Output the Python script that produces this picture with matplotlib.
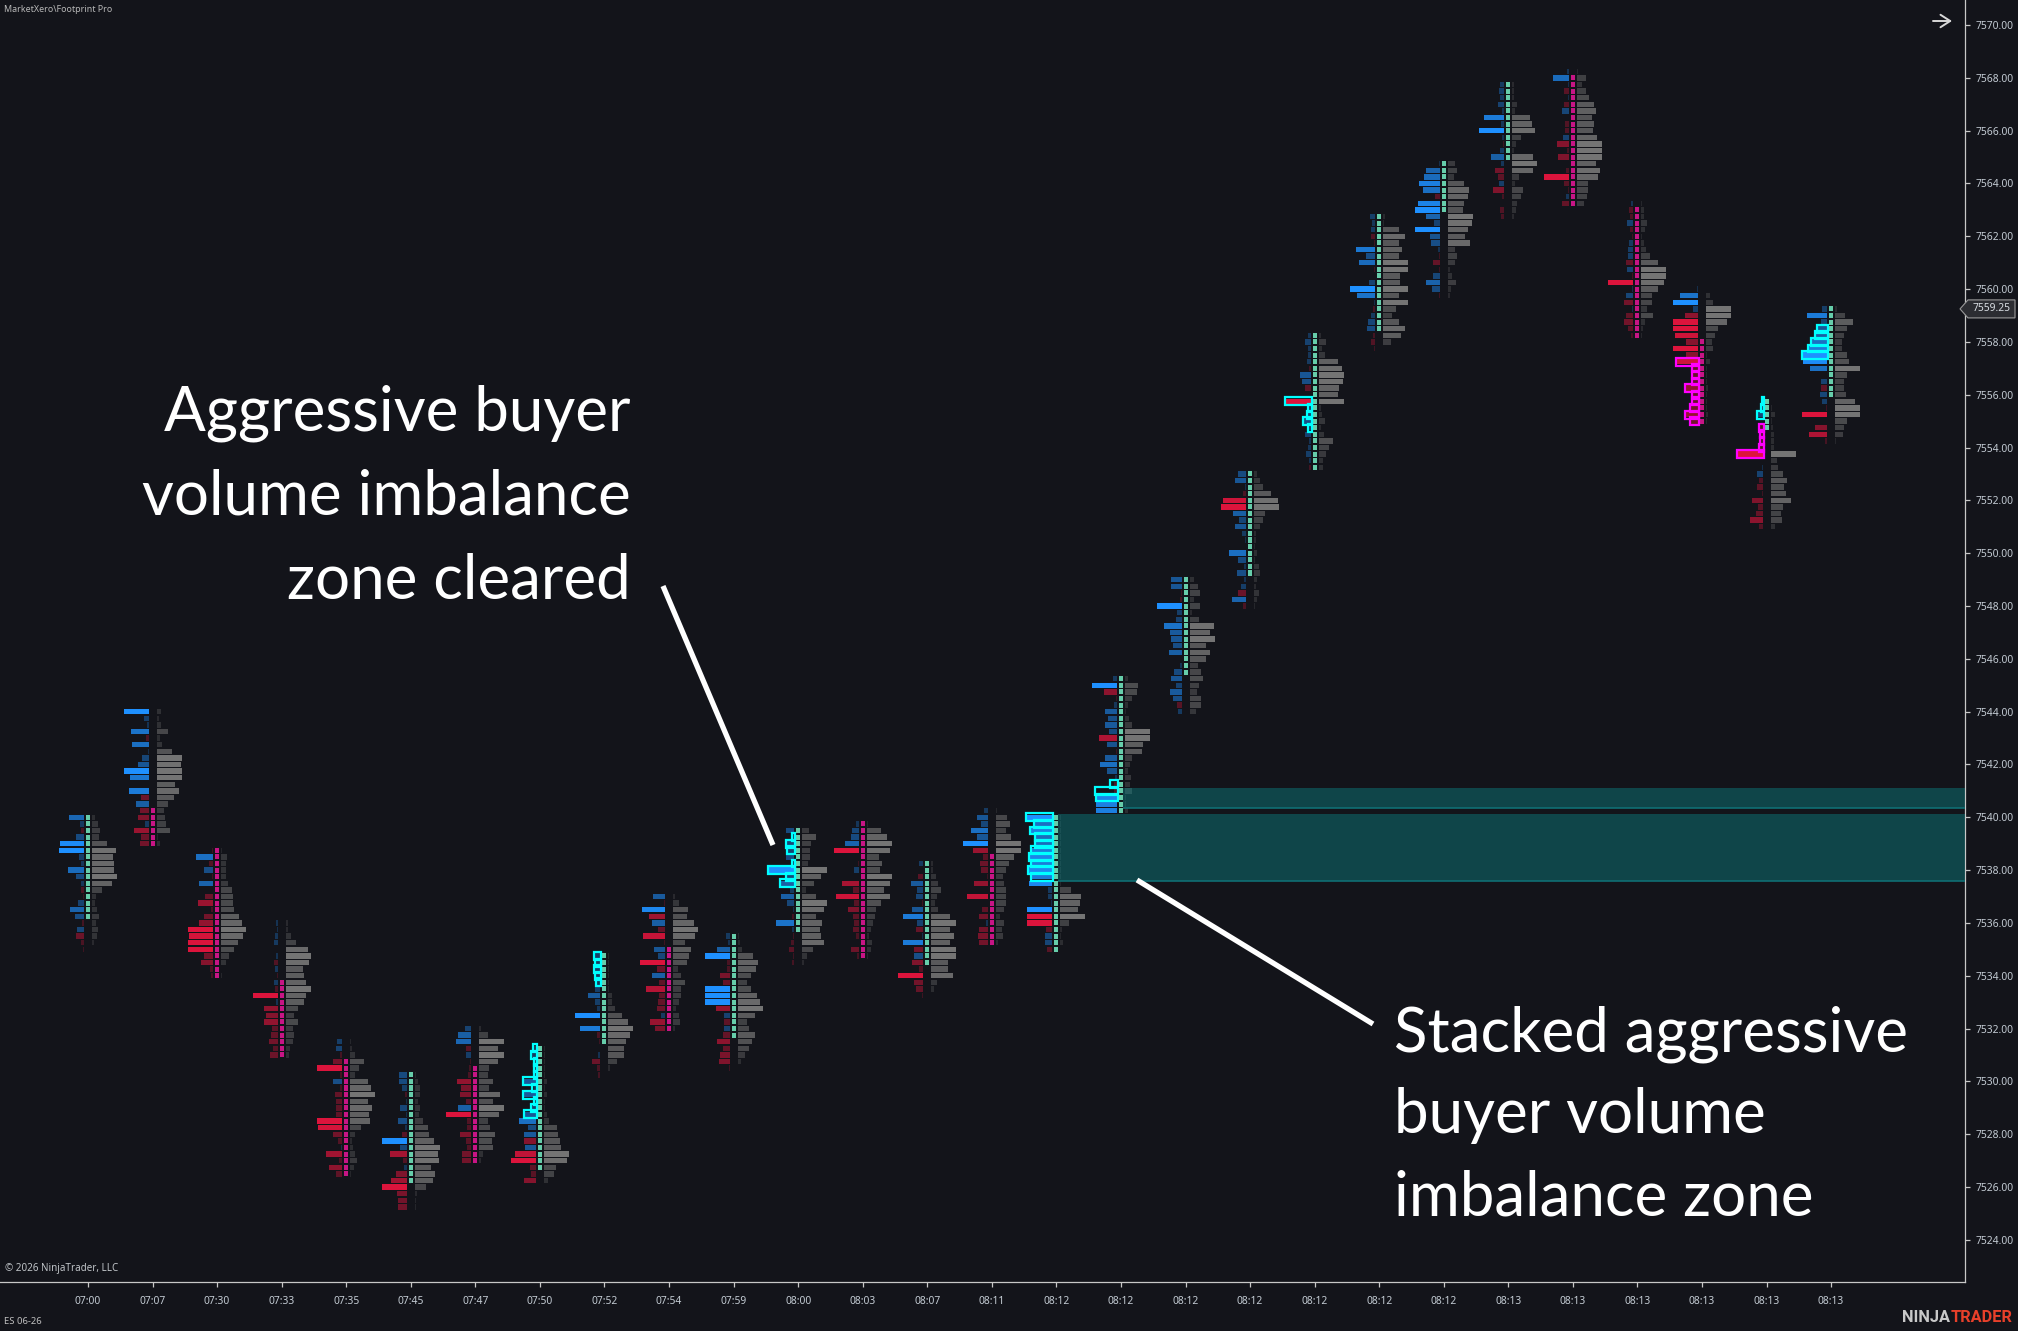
import matplotlib
matplotlib.use("Agg")
import matplotlib.pyplot as plt
from matplotlib.patches import Polygon

# ---------- data ----------
time_labels = ["07:00","07:07","07:30","07:33","07:35","07:45","07:47","07:50","07:52","07:54",
               "07:59","08:00","08:03","08:07","08:11","08:12","08:12","08:12","08:12","08:12",
               "08:12","08:12","08:13","08:13","08:13","08:13","08:13","08:13"]
price_ticks = [7524 + 2 * i for i in range(24)]
top_price = [7540.0,7544.0,7538.75,7536.0,7531.5,7530.25,7532.0,7531.25,7534.75,7537.0,
             7535.5,7539.5,7539.75,7538.25,7540.25,7540.0,7545.25,7549.0,7553.0,7558.25,
             7562.75,7564.75,7567.75,7568.25,7563.25,7560.0,7555.75,7559.25]
body_first = [0,15,0,9,3,0,6,0,0,8,0,0,0,0,7,0,0,0,0,0,0,0,0,1,1,8,0,0]
body_last  = [15,20,19,20,20,16,20,18,13,20,15,15,20,15,20,20,20,14,15,20,17,7,11,20,20,20,4,13]
body_up = [1,0,0,0,0,1,0,1,1,0,1,1,0,1,0,1,1,1,1,1,1,1,1,0,0,0,1,1]

# left column: + buyers (blue), - sellers (red); right column: total volume
left_00 = [15,4,-3,8,24,25,5,3,16,8,3,-3,-1,6,14,9,-2,7,-8,-3,-1]
right_00 = [3,6,8,7,15,24,21,22,22,25,20,10,4,3,5,7,4,6,5,2,0]
left_01 = [25,5,2,18,-3,17,1,7,11,25,19,0,20,-8,13,-9,-11,4,-15,-8,-9]
right_01 = [4,2,4,11,3,5,15,25,24,25,25,18,22,17,11,7,8,9,13,1,3]
left_02 = [-1,17,-4,9,-1,14,0,-8,-15,-2,-9,-14,-25,-24,-25,-25,-9,-12,-3,-2]
right_02 = [1,6,5,5,5,7,11,12,12,13,18,21,25,22,17,13,8,5,0,1]
left_03 = [2,1,3,4,0,2,-4,3,-1,4,-3,-25,2,-14,-12,-14,-6,-7,-9,-5,-8]
right_03 = [2,2,5,10,22,25,23,17,18,20,25,20,18,12,8,12,7,8,7,4,3]
left_04 = [5,6,-2,-9,-25,-2,9,-2,-7,-6,-6,-6,-25,-24,-9,-4,1,-16,-3,-13,-6]
right_04 = [1,2,5,14,9,5,18,21,25,18,22,19,20,11,5,2,3,5,7,4,1]
left_05 = [8,8,5,-2,1,7,1,9,2,-5,25,7,-17,-4,3,-11,-16,-25,-10,-9,-9]
right_05 = [1,3,5,5,3,5,4,8,13,14,19,25,23,24,16,20,18,11,2,1,1]
left_06 = [6,13,15,-5,5,-1,-2,-3,-14,-10,-11,-5,13,-25,-4,-4,-11,-5,-4,-9,-9]
right_06 = [2,9,25,19,25,19,10,9,14,10,21,14,25,20,9,11,16,13,14,4,2]
left_07 = [2,4,1,1,1,12,2,12,2,5,11,17,8,12,-12,11,-21,-25,-6,-5,-12]
right_07 = [1,1,1,1,1,3,1,3,1,1,3,5,13,14,16,17,25,23,12,10,4]
left_08 = [5,4,5,4,3,5,12,5,3,25,0,20,-3,-1,0,2,-8,-3,-2]
right_08 = [1,1,1,1,1,1,4,4,7,14,20,25,22,18,16,16,9,2,0]
left_09 = [12,-1,23,-16,13,-7,-22,-1,11,7,-25,-8,13,-6,-19,-6,-7,-8,4,-15,-10]
right_09 = [2,6,15,14,21,25,22,12,18,16,14,5,8,12,8,8,6,3,6,7,2]
left_10 = [4,2,13,25,-3,-3,-10,-7,25,25,25,-14,6,-6,6,-7,-13,-7,-10,-11,-1]
right_10 = [1,2,4,15,20,18,13,9,13,19,22,25,17,9,11,17,14,11,7,3,0]
left_11 = [8,2,7,6,8,2,25,7,13,4,13,7,1,-2,18,2,-1,-3,-5,-1,-2]
right_11 = [7,14,9,8,8,6,25,19,12,4,14,25,22,14,20,18,19,22,11,5,2]
left_12 = [3,7,8,14,-25,0,-1,5,0,-17,-6,-23,-5,-11,-6,-5,-6,-3,0,-8,-2]
right_12 = [1,14,20,25,23,12,15,13,25,23,17,23,14,9,8,6,4,2,5,4,1]
left_13 = [4,0,-5,12,6,7,-1,11,20,6,-7,1,20,-9,9,-11,-4,-25,-9,-7,-1]
right_13 = [2,2,5,7,10,6,4,7,19,25,19,23,19,25,25,17,17,22,6,3,0]
left_14 = [4,11,7,17,11,25,-15,-5,-8,-7,-1,-14,0,-21,0,-6,-9,2,-9,-10,-9]
right_14 = [1,11,14,10,15,25,25,18,13,10,7,8,10,10,10,8,4,8,6,7,2]
left_15 = [25,17,21,16,16,20,22,20,23,20,23,4,4,1,25,-25,-25,-6,7,7,-5]
right_15 = [1,1,1,1,1,1,1,1,1,1,1,11,21,20,18,25,9,2,1,3,0]
left_16 = [4,25,-13,-1,3,12,9,12,8,-18,10,-1,12,17,10,2,-3,-3,22,21,21]
right_16 = [3,13,12,7,3,1,4,7,25,25,18,17,7,5,3,6,5,7,1,1,3]
left_17 = [11,11,-1,-2,25,5,6,18,12,11,9,13,0,2,8,11,6,12,9,-5,4]
right_17 = [4,8,10,4,10,2,9,24,20,25,16,20,16,8,11,13,9,7,11,11,6]
left_18 = [8,11,1,-3,-23,-25,13,7,11,4,1,0,17,8,2,9,2,5,-8,14,-3]
right_18 = [3,6,9,17,24,25,11,9,6,2,2,1,3,1,5,6,3,2,5,3,1]
left_19 = [3,6,3,3,4,-2,11,9,-6,0,-25,4,5,9,4,6,2,3,5,2,-2]
right_19 = [2,7,3,6,19,23,25,24,20,19,25,2,3,6,2,5,14,10,7,4,4]
left_20 = [5,3,4,-4,-1,19,9,16,-1,0,6,25,18,1,-2,4,7,8,-2,-4,-1]
right_20 = [2,1,16,22,16,19,16,25,25,17,17,25,16,25,13,9,16,22,18,8,0]
left_21 = [1,14,16,21,17,-5,22,25,14,6,25,10,9,2,-1,-7,-1,7,14,8,-1]
right_21 = [7,9,6,16,21,20,16,15,25,24,20,17,22,7,9,7,2,4,8,3,2]
left_22 = [4,5,4,6,2,20,3,25,2,-1,4,13,3,-9,-6,5,-11,-2,0,-4,-3]
right_22 = [2,2,2,5,3,18,20,23,9,4,2,21,25,21,7,3,11,9,5,4,2]
left_23 = [2,16,1,-5,1,-5,7,0,-4,-4,6,-12,-2,-11,0,-3,-25,-5,-1,3,-7]
right_23 = [1,9,5,9,12,17,19,15,17,16,20,25,25,25,19,23,21,11,11,10,7]
left_24 = [2,-4,-3,6,-3,-1,4,5,5,-7,6,-1,-25,1,7,-9,1,-7,-9,-5,-2]
right_24 = [1,3,3,6,4,1,3,5,9,17,25,25,23,17,11,11,6,12,4,2,1]
left_25 = [1,18,25,5,-13,-25,-25,-23,-12,-25,-12,-23,-7,-7,-7,-14,-7,-7,-9,-14,-9]
right_25 = [0,4,7,25,25,21,12,9,6,7,1,4,1,1,1,2,1,1,1,2,1]
left_26 = [2,3,7,0,-5,-4,-4,-5,-25,0,1,6,-4,-6,-1,-11,-5,-7,-13,-4]
right_26 = [0,1,4,1,2,3,3,3,25,6,7,12,16,13,15,20,12,10,11,4]
left_27 = [5,20,6,11,13,17,20,25,24,17,0,6,-6,7,5,-1,-25,0,-12,-18,-2]
right_27 = [2,10,18,12,9,7,7,12,14,25,12,9,9,11,20,25,25,12,9,8,1]

# imbalance rows: bar -> rows and the length of the flagged run
cyan_rows = {
    7: ([0,1,2,3,4,5,6,7,8,9,10], [4,6,3,3,3,14,5,14,3,6,13]),
    8: ([0,1,2,3,4], [7,6,7,6,5]),
    11: ([1,2,3,5,6,7,8], [3,9,8,3,27,9,15]),
    15: (list(range(10)), [27,19,23,18,18,22,24,22,25,22]),
    16: ([16,17,18], [8,23,22]),
    19: ([10,11,12,13,14], [27,4,5,9,4]),
    26: ([0,1,2], [2,3,7]),
    27: ([3,4,5,6,7], [11,13,17,20,26]),
}
magenta_rows = {
    25: ([11,12,13,14,15,16,17,18,19,20], [23,7,7,7,14,7,7,9,14,9]),
    26: ([4,5,6,7,8], [5,4,4,5,27]),
}
zone_prices = [(7537.6, 7540.12), (7540.36, 7541.11)]
zone_start_bar = [15, 16]
last_price = 7559.25

left_all = [left_00,left_01,left_02,left_03,left_04,left_05,left_06,left_07,left_08,left_09,
            left_10,left_11,left_12,left_13,left_14,left_15,left_16,left_17,left_18,left_19,
            left_20,left_21,left_22,left_23,left_24,left_25,left_26,left_27]
right_all = [right_00,right_01,right_02,right_03,right_04,right_05,right_06,right_07,right_08,right_09,
             right_10,right_11,right_12,right_13,right_14,right_15,right_16,right_17,right_18,right_19,
             right_20,right_21,right_22,right_23,right_24,right_25,right_26,right_27]

# ---------- layout ----------
W, H = 2018, 1331
AX_R, AX_B = 1965, 1282
BG = "#13141a"
PX_BAR = 64.56
X0_PX = 88.0
PX_PT = 26.41
Y7570 = 25.0
px = 1 / PX_BAR                     # one pixel in x data units
TICK = 0.25

def xd(p): return (p - X0_PX) / PX_BAR
def yd(p): return 7570 - (p - Y7570) / PX_PT

fig = plt.figure(figsize=(W / 100, H / 100), dpi=100, facecolor=BG)
ax = fig.add_axes([0, 1 - AX_B / H, AX_R / W, AX_B / H], facecolor=BG)
ax.set_xlim(xd(0), xd(AX_R))
ax.set_ylim(yd(AX_B), yd(0))

def rgba(hex_, a):
    return matplotlib.colors.to_rgba(hex_, a)

BLUE, RED, GRAY = "#1e90ff", "#dc143c", "#747474"
UP, DOWN = "#66cdaa", "#c71585"

for i, (lv, rv) in enumerate(zip(left_all, right_all)):
    ys = [top_price[i] - TICK * k for k in range(len(lv))]
    lens_l = [abs(v) * px for v in lv]
    cols_l = [rgba(BLUE if v > 0 else RED, 0.18 + 0.82 * abs(v) / 25) for v in lv]
    ax.barh(ys, lens_l, left=[i - 4 * px - w for w in lens_l], height=0.205,
            color=cols_l, linewidth=0, zorder=2)
    lens_r = [v * px for v in rv]
    cols_r = [rgba(GRAY, 0.16 + 0.84 * v / 25) for v in rv]
    ax.barh(ys, lens_r, left=i + 4 * px, height=0.205, color=cols_r, linewidth=0, zorder=2)
    a, b = body_first[i], body_last[i]
    ax.barh(ys[a:b + 1], 4 * px, left=i - 2 * px, height=0.19,
            color=UP if body_up[i] else DOWN, linewidth=0, zorder=5)

for table, col in ((cyan_rows, "#00ffff"), (magenta_rows, "#ff00ff")):
    for i, (rows, widths) in table.items():
        ys = [top_price[i] - TICK * k for k in rows]
        ln = [w * px for w in widths]
        ax.barh(ys, ln, left=[i - 3 * px - w for w in ln], height=0.30, fill=False,
                edgecolor=col, linewidth=1.6, zorder=6)

for (lo, hi), s in zip(zone_prices, zone_start_bar):
    ax.barh((lo + hi) / 2, xd(AX_R) - s - 2 * px, left=s + 2 * px, height=hi - lo,
            color=(11 / 255, 145 / 255, 146 / 255, 0.4), linewidth=0, zorder=3)
    ax.plot([s + 2 * px, xd(AX_R)], [lo, lo], color="#0f6f74", lw=1.2, zorder=4, solid_capstyle="butt")

# callout lines
ax.plot([xd(663), xd(773)], [yd(586), yd(845)], color="white", lw=3.8, zorder=8, solid_capstyle="butt")
ax.plot([xd(1137), xd(1373)], [yd(880), yd(1024)], color="white", lw=3.8, zorder=8, solid_capstyle="butt")

# axes
for s in ("top", "left"):
    ax.spines[s].set_visible(False)
for s in ("right", "bottom"):
    ax.spines[s].set_color("#c8c8c8")
    ax.spines[s].set_linewidth(0.9)
ax.set_xticks(range(len(time_labels)), time_labels)
ax.yaxis.tick_right()
ax.set_yticks(price_ticks, [f"{p:.2f}" for p in price_ticks])
TICKFONT = "Noto Sans"
ax.tick_params(axis="both", colors="#c8c8c8", length=3.8, width=0.9, labelsize=7.4,
               labelcolor="#c3cbd3", pad=3)
for t in ax.get_xticklabels() + ax.get_yticklabels():
    t.set_family(TICKFONT)
ax.tick_params(axis="x", pad=6)
ax.tick_params(axis="y", pad=4)

def ftext(x, y, s, **kw):
    fig.text(x / W, 1 - y / H, s, **kw)

ftext(4, 10, "MarketXero\\Footprint Pro", color="#b8b8b8", fontsize=6.4, family=TICKFONT, va="center")
ftext(5, 1268, "\u00a9 2026 NinjaTrader, LLC", color="#c0c4c8", fontsize=7.1, family=TICKFONT, va="center")
ftext(4, 1321, "ES 06-26", color="#c0c0c0", fontsize=6.8, family=TICKFONT, va="center")

big = dict(color="white", fontsize=44.6, family="Lato", va="center")
for y, s in zip((413, 497, 581), ("Aggressive buyer", "volume imbalance", "zone cleared")):
    ftext(631, y, s, ha="right", **big)
for y, s in zip((1034, 1116, 1198), ("Stacked aggressive", "buyer volume", "imbalance zone")):
    ftext(1394, y, s, ha="left", **big)

# arrow top right
ax.annotate("", xy=(xd(1952), yd(21)), xytext=(xd(1933), yd(21)),
            arrowprops=dict(arrowstyle="->,head_length=0.7,head_width=0.45", color="#d8d8d8", lw=1.4,
                            shrinkA=0, shrinkB=0), zorder=9)

# current price tag
y_tag = (Y7570 + (7570 - last_price) * PX_PT)
tag = Polygon([(1960, H - y_tag), (1968, H - y_tag + 9), (2015, H - y_tag + 9), (2015, H - y_tag - 9),
               (1968, H - y_tag - 9)], closed=True, transform=None, facecolor="#2c2d32",
              edgecolor="#9a9a9a", linewidth=0.8, zorder=20)
fig.add_artist(tag)
ftext(1991.5, y_tag, f"{last_price:.2f}", color="#d8dde2", fontsize=7.4, family=TICKFONT, ha="center", va="center", zorder=21)

# brand
t1 = fig.text(1902 / W, 1 - 1318 / H, "NINJA", color="#c8c8c8", fontsize=11.8, family="Roboto",
              weight="bold", va="center")
fig.canvas.draw()
bb = t1.get_window_extent()
fig.text((bb.x1 + 1) / W, 1 - 1318 / H, "TRADER", color="#e8402a", fontsize=11.8, family="Roboto",
         weight="bold", va="center")

fig.savefig("out.png", dpi=100, facecolor=BG)
